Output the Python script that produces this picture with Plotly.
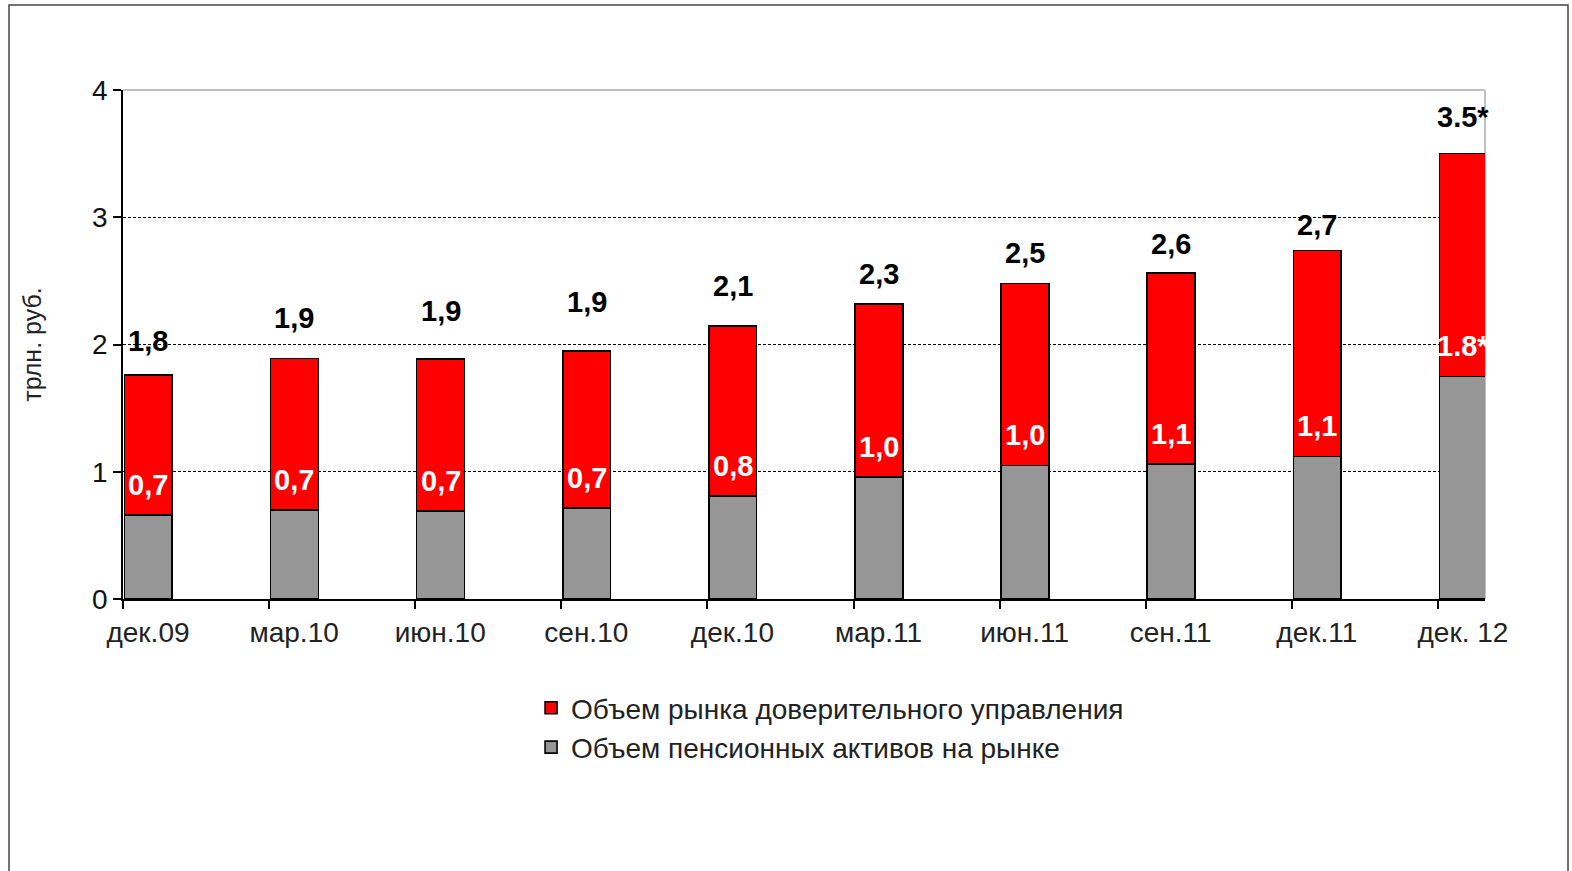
import plotly.graph_objects as go

categories = ["дек.09", "мар.10", "июн.10", "сен.10", "дек.10", "мар.11", "июн.11", "сен.11", "дек.11", "дек. 12"]
pension = [0.66, 0.70, 0.69, 0.715, 0.81, 0.96, 1.05, 1.06, 1.12, 1.75]
total = [1.76, 1.89, 1.886, 1.95, 2.145, 2.32, 2.48, 2.56, 2.74, 3.50]
total_labels = ["1,8", "1,9", "1,9", "1,9", "2,1", "2,3", "2,5", "2,6", "2,7", "3.5*"]
pension_labels = ["0,7", "0,7", "0,7", "0,7", "0,8", "1,0", "1,0", "1,1", "1,1", "1.8*"]
y_ticks = [0, 1, 2, 3, 4]

# style
BW = 0.327
total_shift = [34, 41, 48, 49, 40, 30, 30, 29, 25, 37]
FONT = "Arial"

xs = list(range(len(categories)))
market = [t - p for t, p in zip(total, pension)]

fig = go.Figure()
fig.add_trace(go.Bar(
    x=xs, y=pension, width=BW, offset=0.01,
    marker=dict(color="#969696", line=dict(color="black", width=1.6)),
    name="Объем пенсионных активов на рынке"))
fig.add_trace(go.Bar(
    x=xs, y=market, width=BW, offset=0.01,
    marker=dict(color="#ff0000", line=dict(color="black", width=1.6)),
    name="Объем рынка доверительного управления"))

for i, (t, p) in enumerate(zip(total, pension)):
    fig.add_annotation(x=i + 0.01 + BW / 2, y=t, text=f"<b>{total_labels[i]}</b>",
                       showarrow=False, yanchor="middle", yshift=total_shift[i],
                       font=dict(family=FONT, size=29, color="black"))
    fig.add_annotation(x=i + 0.01 + BW / 2, y=p, text=f"<b>{pension_labels[i]}</b>",
                       showarrow=False, yanchor="middle", yshift=30,
                       font=dict(family=FONT, size=29, color="white"))

# plot border top/right (grey) and outer frame
fig.add_shape(type="line", xref="paper", yref="paper", x0=0, x1=1, y0=1, y1=1,
              line=dict(color="#c0c0c0", width=2), layer="below")
fig.add_shape(type="line", xref="paper", yref="paper", x0=1, x1=1, y0=0, y1=1,
              line=dict(color="#c0c0c0", width=2), layer="below")
fig.add_shape(type="rect", xref="paper", yref="paper",
              x0=(9 - 123) / 1362, x1=(1568 - 123) / 1362,
              y0=(599 - 900) / 509, y1=(599 - 5) / 509,
              line=dict(color="#444444", width=1.5))

fig.update_layout(
    width=1572, height=871,
    margin=dict(l=123, r=87, t=90, b=272),
    paper_bgcolor="white", plot_bgcolor="white",
    barmode="stack",
    font=dict(family=FONT, color="#222222"),
    showlegend=True,
    legend=dict(x=0.2996, y=-0.165, xanchor="left", yanchor="top",
                traceorder="reversed", font=dict(family=FONT, size=28, color="#222222"),
                bgcolor="rgba(0,0,0,0)", itemwidth=30, tracegroupgap=0),
    xaxis=dict(range=[0, 9.322], tickvals=xs, ticktext=categories,
               ticks="outside", ticklen=8, tickcolor="black", tickwidth=1.5,
               ticklabelshift=25, tickfont=dict(family=FONT, size=28, color="#222222"),
               showline=True, linecolor="black", linewidth=1.5,
               showgrid=False, zeroline=False),
    yaxis=dict(range=[0, 4], tickvals=y_ticks,
               ticks="outside", ticklen=8, tickcolor="black", tickwidth=1.5,
               tickfont=dict(family=FONT, size=28, color="#111111"),
               showline=True, linecolor="black", linewidth=1.5,
               showgrid=True, gridcolor="black", gridwidth=0.8, griddash="3px,2px",
               zeroline=False,
               title=dict(text="трлн. руб.", font=dict(family=FONT, size=25, color="#222222"), standoff=43)),
)

fig.write_html("out.html", config={"displayModeBar": False},
               post_script="document.body.style.margin='0';")
